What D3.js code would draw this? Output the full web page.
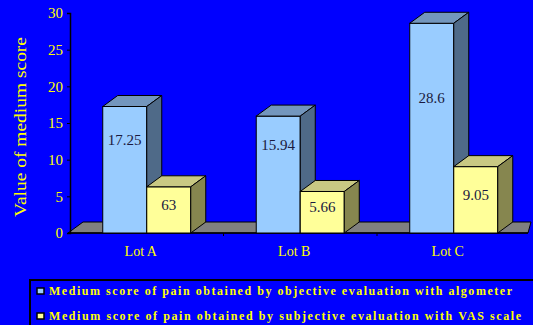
<!DOCTYPE html>
<html><head><meta charset="utf-8">
<script src="https://cdn.jsdelivr.net/npm/d3@7/dist/d3.min.js"></script>
<style>
html,body{margin:0;padding:0;background:#0000ff;overflow:hidden}
svg{display:block}
text{font-family:"Liberation Serif","Times New Roman",serif}
</style></head>
<body>
<svg id="c" width="533" height="325"></svg>
<script>
const categories = ["Lot A", "Lot B", "Lot C"];
const seriesNames = [
  "Medium score of pain obtained by objective evaluation with algometer",
  "Medium score of pain obtained by subjective evaluation with VAS scale"
];
const algometer = [17.25, 15.94, 28.6];
const vasScale = [6.3, 5.66, 9.05];
const valueLabels = [["17.25", "15.94", "28.6"], ["63", "5.66", "9.05"]];
const yTicks = [0, 5, 10, 15, 20, 25, 30];

const series = [algometer, vasScale];
const colors = [
  {front: "#99ccff", top: "#7396bd", side: "#4f6a88"},
  {front: "#ffff99", top: "#c9c983", side: "#86864f"}
];
const yellow = "#ffff00";
const depthX = 15, depthY = -11;

const svg = d3.select("#c");
const y = d3.scaleLinear().domain([0, 30]).range([233, 13]);
const x = d3.scaleBand().domain(categories).range([70, 530.5]).paddingInner(0).paddingOuter(0);
const xs = d3.scaleBand().domain([0, 1]).range([0, x.bandwidth()]).paddingInner(0).paddingOuter(0.744);

// floor
const y0 = y(0);
svg.append("polygon")
  .attr("points", [[68, y0], [68 + depthX, y0 + depthY], [531, y0 + depthY], [528, y0]].map(p => p.join(",")).join(" "))
  .attr("fill", "#808080").attr("stroke", "#000").attr("stroke-width", 1);

// y axis
const yAxis = d3.axisLeft(y).tickValues(yTicks).tickSize(3).tickPadding(4).tickFormat(d3.format("d"));
const ga = svg.append("g").attr("transform", "translate(70,0)").call(yAxis);
ga.select(".domain").attr("stroke", "#000").attr("stroke-width", 1.5);
ga.selectAll(".tick line").attr("stroke", "#000");
ga.selectAll(".tick text").attr("fill", yellow).attr("font-size", 15)
  .attr("font-family", "'Liberation Serif', serif");

// x axis ticks at category boundaries
svg.append("g").selectAll("line").data(categories.slice(1)).join("line")
  .attr("x1", d => x(d)).attr("x2", d => x(d))
  .attr("y1", y0).attr("y2", y0 + 3).attr("stroke", "#000");
svg.append("line").attr("x1", 68).attr("x2", 528).attr("y1", y0).attr("y2", y0)
  .attr("stroke", "#000").attr("stroke-width", 1.5);

// bars
const bars = svg.append("g");
categories.forEach((cat, ci) => {
  series.forEach((vals, si) => {
    const v = vals[ci];
    const x0 = x(cat) + xs(si), w = xs.bandwidth();
    const yt = y(v);
    const c = colors[si];
    const g = bars.append("g");
    g.append("rect").attr("x", x0).attr("y", yt).attr("width", w).attr("height", y0 - yt)
      .attr("fill", c.front).attr("stroke", "#000").attr("stroke-width", 1);
    g.append("polygon")
      .attr("points", [[x0, yt], [x0 + depthX, yt + depthY], [x0 + w + depthX, yt + depthY], [x0 + w, yt]].map(p => p.join(",")).join(" "))
      .attr("fill", c.top).attr("stroke", "#000").attr("stroke-width", 1);
    g.append("polygon")
      .attr("points", [[x0 + w, yt], [x0 + w + depthX, yt + depthY], [x0 + w + depthX, y0 + depthY], [x0 + w, y0]].map(p => p.join(",")).join(" "))
      .attr("fill", c.side).attr("stroke", "#000").attr("stroke-width", 1);
    const lift = si === 0 ? 25 : 0;
    g.append("text").attr("x", x0 + w / 2).attr("y", y(v / 2) - lift)
      .attr("text-anchor", "middle").attr("font-size", 15).attr("fill", "#1a1a40")
      .text(valueLabels[si][ci]);
  });
});

// category labels
svg.append("g").selectAll("text").data(categories).join("text")
  .attr("x", d => x(d) + x.bandwidth() / 2 - 6).attr("y", 256)
  .attr("text-anchor", "middle").attr("font-size", 14).attr("fill", yellow)
  .text(d => d);

// y axis title
svg.append("text").attr("transform", "translate(26,127) rotate(-90)")
  .attr("text-anchor", "middle").attr("font-size", 17).attr("fill", yellow)
  .attr("textLength", 180).attr("lengthAdjust", "spacingAndGlyphs")
  .text("Value of medium score");

// legend
const lg = svg.append("g");
lg.append("rect").attr("x", 30).attr("y", 280).attr("width", 510).attr("height", 50)
  .attr("fill", "#0000ff").attr("stroke", "#000").attr("stroke-width", 2);
const legendRows = [0, 1];
const ly = d3.scalePoint().domain(legendRows).range([291, 316]);
const textLens = [463, 472];
legendRows.forEach(i => {
  lg.append("rect").attr("x", 37).attr("y", ly(i) - 3).attr("width", 7).attr("height", 6)
    .attr("fill", colors[i].front).attr("stroke", "#000").attr("stroke-width", 1.5);
  lg.append("text").attr("x", 49).attr("y", ly(i) + 4).attr("font-size", 12)
    .attr("font-weight", "bold").attr("fill", yellow)
    .attr("textLength", textLens[i]).attr("lengthAdjust", "spacing")
    .text(seriesNames[i]);
});
</script>
</body></html>
